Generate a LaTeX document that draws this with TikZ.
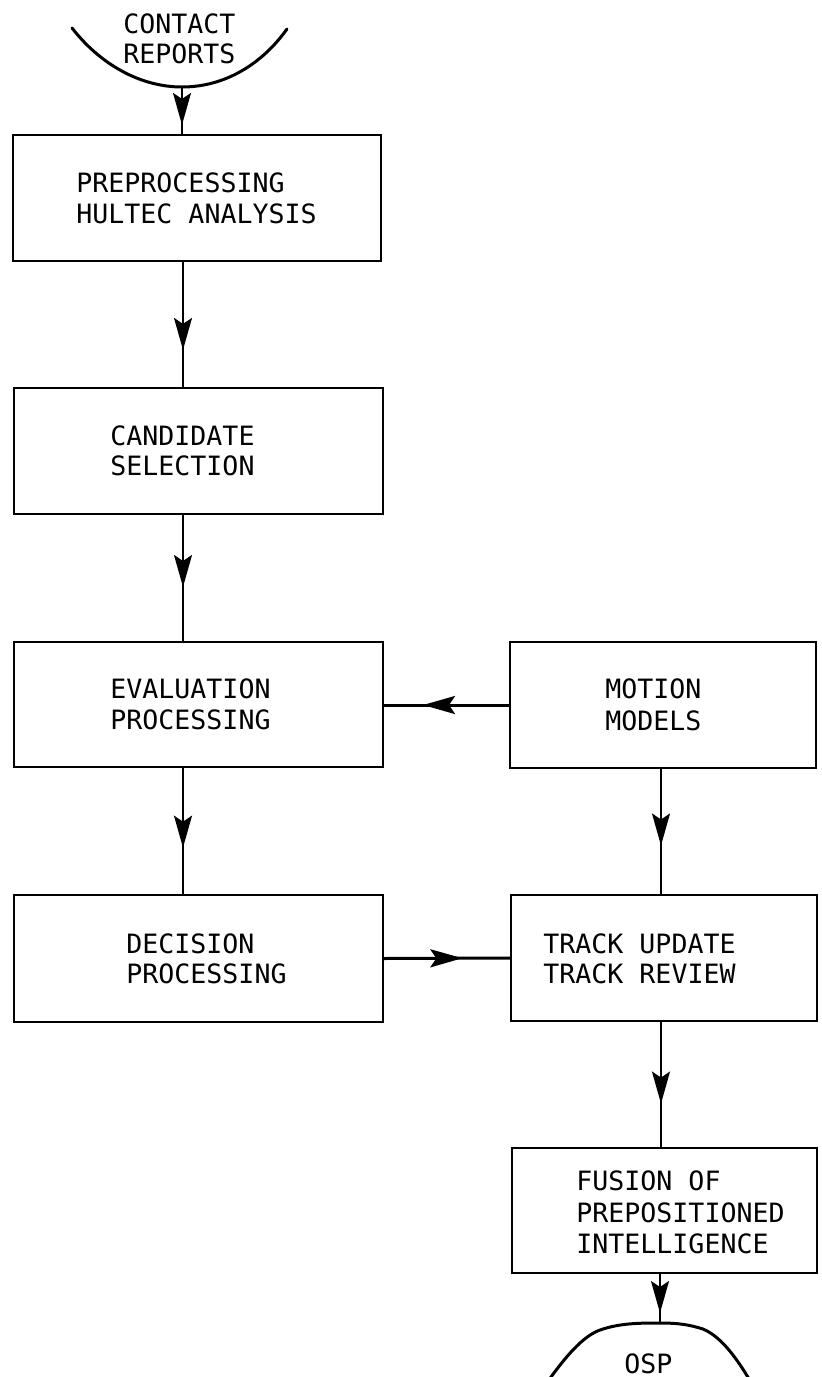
\documentclass[tikz,border=0pt]{standalone}
\usepackage{fontspec}
\setmonofont{DejaVu Sans Mono}
\usetikzlibrary{arrows.meta,decorations.markings}

\begin{document}
\begin{tikzpicture}[x=0.5pt,y=-0.5pt,
  box/.style={draw, line width=1.3pt, inner sep=0pt, outer sep=0pt},
  lbl/.style={inner sep=0pt, anchor=base west, font=\ttfamily\fontsize{13.3}{15}\selectfont},
  flow/.style={line width=0.95pt, postaction={decorate},
    decoration={markings, mark=at position #1 with {\arrow{Stealth[length=16pt,width=9pt,inset=3pt]}}}},
  edge/.style={line width=1.5pt, line cap=round}
]
% page frame
\fill[white] (0,0) rectangle (822,1377);
\useasboundingbox (0,0) rectangle (822,1377);

% columns of the vertical connectors
\coordinate (lx) at (183,0);
\coordinate (rx) at (661,0);

% terminal shapes
\coordinate (cr) at (182,87);
\coordinate (osp) at (660,1323);
\draw[edge] (72,28) .. controls (100,64) and (140,87) .. (cr)
            .. controls (225,87) and (262,64) .. (287,29);
\draw[edge] (546,1384) .. controls (565,1357) and (583,1336) .. (600,1330)
            .. controls (620,1323) and (640,1323) .. (osp)
            .. controls (680,1323) and (690,1325) .. (703,1329)
            .. controls (722,1337) and (738,1360) .. (752,1384);
\node[lbl] (t0a) at (123,33) {CONTACT};
\node[lbl] (t0b) at (123,63) {REPORTS};
\node[lbl] (t8) at (624,1373) {OSP};

% process boxes
\node[box, minimum width=184pt,   minimum height=63pt]   (b1) at (197,198) {};
\node[box, minimum width=184.5pt, minimum height=63pt]   (b2) at (198.5,451) {};
\node[box, minimum width=184.5pt, minimum height=62.5pt] (b3) at (198.5,704.5) {};
\node[box, minimum width=153pt,   minimum height=63pt]   (b4) at (663,705) {};
\node[box, minimum width=184.5pt, minimum height=63.5pt] (b5) at (198.5,958.5) {};
\node[box, minimum width=153pt,   minimum height=63pt]   (b6) at (664,958) {};
\node[box, minimum width=152.5pt, minimum height=62.5pt] (b7) at (664.5,1210.5) {};

% box texts
\node[lbl] (t1a) at (76,192) {PREPROCESSING};
\node[lbl] (t1b) at (76,223) {HULTEC ANALYSIS};
\node[lbl] (t2a) at (110,445) {CANDIDATE};
\node[lbl] (t2b) at (110,475) {SELECTION};
\node[lbl] (t3a) at (110,698) {EVALUATION};
\node[lbl] (t3b) at (110,729) {PROCESSING};
\node[lbl] (t4a) at (605,698) {MOTION};
\node[lbl] (t4b) at (605,730) {MODELS};
\node[lbl] (t5a) at (126,953) {DECISION};
\node[lbl] (t5b) at (126,983) {PROCESSING};
\node[lbl] (t6a) at (543,953) {TRACK UPDATE};
\node[lbl] (t6b) at (543,983) {TRACK REVIEW};
\node[lbl] (t7a) at (576,1190) {FUSION OF};
\node[lbl] (t7b) at (576,1222) {PREPOSITIONED};
\node[lbl] (t7c) at (576,1253) {INTELLIGENCE};

% connectors
\draw[flow=0.79] (cr) -- (b1.north -| cr);
\draw[flow=0.70] (b1.south -| lx) -- (b2.north -| lx);
\draw[flow=0.57] (b2.south -| lx) -- (b3.north -| lx);
\draw[flow=0.63] (b3.south -| lx) -- (b5.north -| lx);
\draw[flow=0.685, line width=1.5pt] (b4.west) -- (b3.east |- b4.west);
\draw[flow=0.62, line width=1.5pt] (b5.east) -- (b6.west);
\draw[flow=0.61] (b4.south -| rx) -- (b6.north -| rx);
\draw[flow=0.65] (b6.south -| rx) -- (b7.north -| rx);
\draw[flow=0.8] (b7.south -| osp) -- (osp);
\end{tikzpicture}
\end{document}
